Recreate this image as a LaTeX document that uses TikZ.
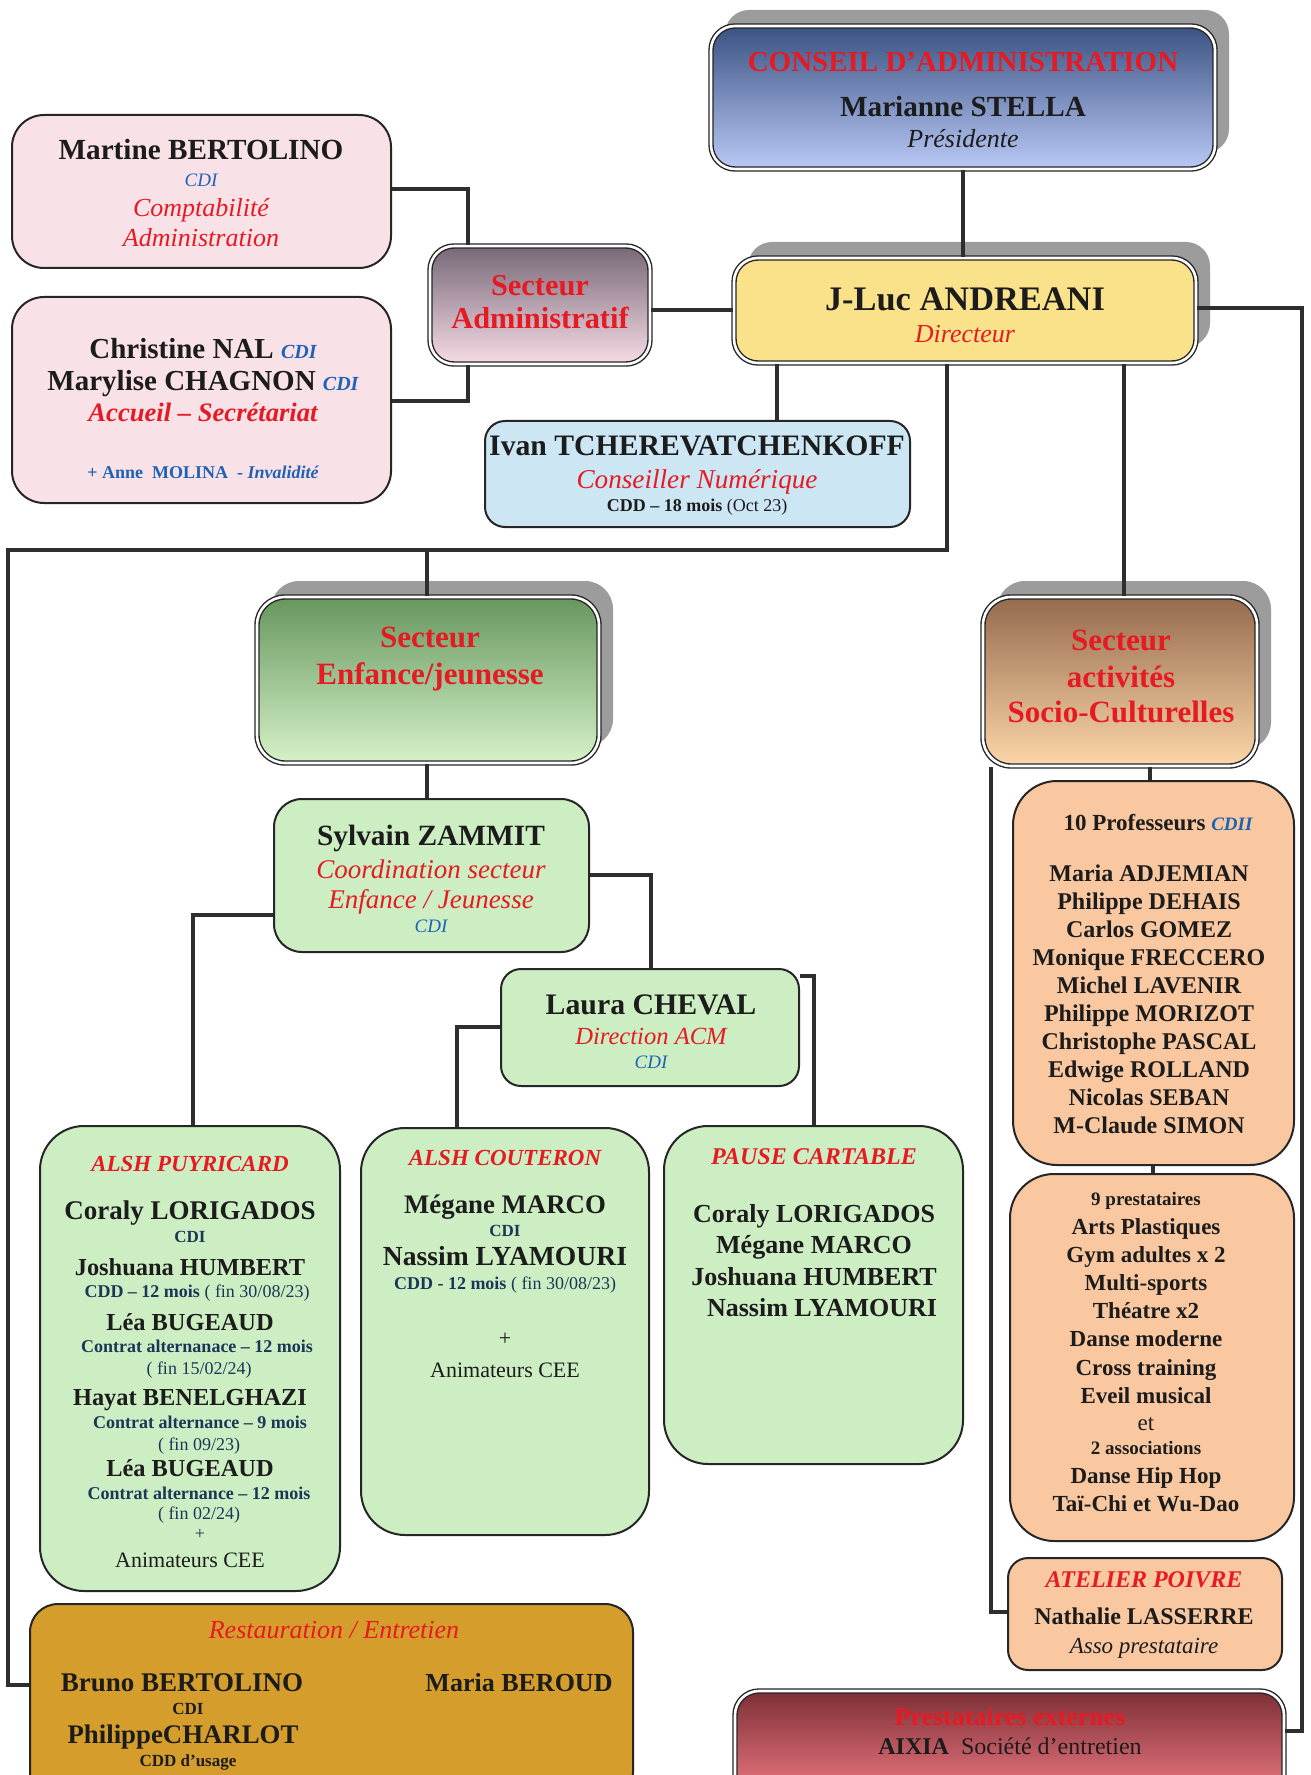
\documentclass[tikz,border=0pt]{standalone}
\usepackage{fontspec}
\setmainfont{Liberation Serif}
\usetikzlibrary{shadows}
\definecolor{redt}{HTML}{E61A22}
\definecolor{bluet}{HTML}{1F62B5}
\definecolor{navyt}{HTML}{1B3656}
\definecolor{txt}{HTML}{1C1C1C}
\definecolor{linec}{HTML}{2E2E2E}
\definecolor{shadowgray}{HTML}{9C9C9C}
\definecolor{pinkc}{HTML}{F9E1E8}
\definecolor{ivanc}{HTML}{CCE6F4}
\definecolor{greenc}{HTML}{CDEEC3}
\definecolor{peachc}{HTML}{F9C8A0}
\definecolor{goldc}{HTML}{D49D2C}
\definecolor{yellc}{HTML}{F9E28A}
\definecolor{consT}{HTML}{3A5282}
\definecolor{consB}{HTML}{BAC9F6}
\definecolor{admT}{HTML}{776878}
\definecolor{admB}{HTML}{F7DCE6}
\definecolor{enfT}{HTML}{66965E}
\definecolor{enfB}{HTML}{D6F2C8}
\definecolor{socT}{HTML}{966A4E}
\definecolor{socB}{HTML}{FCD7A8}
\definecolor{extT}{HTML}{7E2F36}
\definecolor{extB}{HTML}{F07C86}
\newcommand\fsz[2]{\fontsize{#1}{#2}\selectfont}
\newcommand\mytn[4]{\node[tline] (#1) at (#2,#3) {#4};}
\tikzset{
  ebox/.style={draw=black!85, line width=1pt, rounded corners=#1, inner sep=0pt},
  dbox/.style={draw=black!85, double=white, double distance=1.3pt, line width=0.7pt, rounded corners=#1, inner sep=0pt},
  shad/.style={drop shadow={shadow xshift=7pt, shadow yshift=8pt, fill=shadowgray, opacity=1}},
  link/.style={draw=linec, line width=2pt},
  tline/.style={anchor=base, inner sep=0pt, text=txt},
}
\begin{document}
\begin{tikzpicture}[x=0.5pt, y=-0.5pt]
\useasboundingbox (0,0) rectangle (1310,1775);
\clip (0,0) rectangle (1310,1775);
\fill[white] (0,0) rectangle (1310,1775);

% ---------- boxes ----------
\node[dbox=12pt, shad, top color=consT, bottom color=consB, minimum width=252pt, minimum height=71.5pt] (conseil) at (963,97.5) {};
\node[dbox=12pt, shad, fill=yellc, minimum width=231pt, minimum height=52.5pt] (jluc) at (965,310.5) {};
\node[dbox=12pt, top color=admT, bottom color=admB, minimum width=110pt, minimum height=59pt] (admin) at (540,305) {};
\node[ebox=16pt, fill=pinkc, minimum width=189.5pt, minimum height=76.5pt] (martine) at (201.5,191.5) {};
\node[ebox=16pt, fill=pinkc, minimum width=189.5pt, minimum height=103pt] (christine) at (201.5,400) {};
\node[ebox=10pt, fill=ivanc, minimum width=212.5pt, minimum height=53pt] (ivan) at (697.5,474) {};
\node[dbox=14pt, shad, top color=enfT, bottom color=enfB, minimum width=171pt, minimum height=83pt] (enfance) at (428,680) {};
\node[dbox=14pt, shad, top color=socT, bottom color=socB, minimum width=137pt, minimum height=84.5pt] (socio) at (1120,681.5) {};
\node[ebox=14pt, fill=greenc, minimum width=157.5pt, minimum height=76.5pt] (sylvain) at (431.5,875.5) {};
\node[ebox=10pt, fill=greenc, minimum width=149pt, minimum height=58.5pt] (laura) at (650,1027.5) {};
\node[ebox=22pt, fill=greenc, minimum width=150pt, minimum height=232.5pt] (puy) at (190,1358.5) {};
\node[ebox=22pt, fill=greenc, minimum width=144pt, minimum height=203.5pt] (cout) at (505,1331.5) {};
\node[ebox=22pt, fill=greenc, minimum width=149.5pt, minimum height=169pt] (pause) at (813.5,1295) {};
\node[ebox=22pt, fill=peachc, minimum width=140.5pt, minimum height=192pt] (profs) at (1153.5,973) {};
\node[ebox=22pt, fill=peachc, minimum width=142pt, minimum height=183.5pt] (prest) at (1152,1357.5) {};
\node[ebox=10pt, fill=peachc, minimum width=137pt, minimum height=56pt] (atelier) at (1145,1614) {};
\node[ebox=14pt, fill=goldc, minimum width=301.5pt, minimum height=98pt] (restau) at (331.5,1702) {};
\node[dbox=12pt, top color=extT, bottom color=extB, minimum width=274.5pt, minimum height=54.5pt] (ext) at (1009.5,1745.5) {};

% ---------- connectors ----------
\draw[link] (conseil.south) -- (conseil.south |- jluc.north);
\draw[link] (admin.east |- jluc.west) -- (jluc.west);
\draw[link] (martine.east |- 0,189) -| (admin.north -| 468,0);
\draw[link] (christine.east |- 0,401) -| (admin.south -| 468,0);
\draw[link] (jluc.south -| 777,0) -- (ivan.north -| 777,0);
\draw[link] (jluc.south -| 947,0) -- (947,550) -- (8,550) -- (8,1685) -- (restau.west |- 0,1685);
\draw[link] (427,550) -- (enfance.north -| 427,0);
\draw[link] (enfance.south -| 427,0) -- (sylvain.north -| 427,0);
\draw[link] (sylvain.west |- 0,915) -| (puy.north -| 193,0);
\draw[link] (sylvain.east |- 0,875) -| (laura.north -| 651,0);
\draw[link] (laura.west |- 0,1027) -| (cout.north -| 457,0);
\draw[link] (laura.east |- 0,976) -| (pause.north -| 814,0);
\draw[link] (jluc.south -| 1124,0) -- (socio.north -| 1124,0);
\draw[link] (socio.south -| 1150,0) -- (profs.north -| 1150,0);
\draw[link] (profs.south -| 1153,0) -- (prest.north -| 1153,0);
\draw[link] (socio.south -| 991,0) |- (atelier.west |- 0,1612);
\draw[link] (jluc.east |- 0,308) -- (1302,308) -- (1302,1731) -- (ext.east |- 0,1731);

% ---------- texts ----------
% Martine
\mytn{m1}{201}{160}{\fsz{14.6}{17}\bfseries Martine BERTOLINO}
\mytn{m2}{201}{187}{\color{bluet}\fsz{9.5}{11}\itshape CDI}
\mytn{m3}{201}{217}{\color{redt}\fsz{13}{15}\itshape Comptabilité}
\mytn{m4}{201}{247}{\color{redt}\fsz{13}{15}\itshape Administration}
% Christine
\mytn{c1}{203}{359}{\fsz{14.5}{17}\bfseries Christine NAL {\color{bluet}\fsz{10}{12}\itshape CDI}}
\mytn{c2}{203}{391}{\fsz{14.5}{17}\bfseries Marylise CHAGNON {\color{bluet}\fsz{10}{12}\itshape CDI}}
\mytn{c3}{203}{422}{\color{redt}\fsz{13.3}{15}\bfseries\itshape Accueil – Secrétariat}
\mytn{c4}{203}{478}{\color{bluet}\fsz{9}{11}\bfseries + Anne\ \ MOLINA\ \ - {\itshape Invalidité}}
% Admin
\mytn{a1}{540}{296}{\color{redt}\fsz{15.2}{18}\bfseries Secteur}
\mytn{a2}{540}{329}{\color{redt}\fsz{15.2}{18}\bfseries Administratif}
% Conseil
\mytn{k1}{963}{72}{\color{redt}\fsz{14.5}{17}\bfseries CONSEIL D’ADMINISTRATION}
\mytn{k2}{963}{117}{\fsz{14.6}{17}\bfseries Marianne STELLA}
\mytn{k3}{963}{148}{\fsz{13}{15}\itshape Présidente}
% J-Luc
\mytn{j1}{965}{311}{\fsz{17.2}{20}\bfseries J-Luc ANDREANI}
\mytn{j2}{965}{343}{\color{redt}\fsz{13}{15}\itshape Directeur}
% Ivan
\mytn{i1}{697}{455}{\fsz{14.85}{17}\bfseries Ivan TCHEREVATCHENKOFF}
\mytn{i2}{697}{488}{\color{redt}\fsz{13.6}{16}\itshape Conseiller Numérique}
\mytn{i3}{697}{511}{\fsz{9}{11}\bfseries CDD – 18 mois {\mdseries(Oct 23)}}
% Enfance
\mytn{e1}{430}{647}{\color{redt}\fsz{15.5}{18}\bfseries Secteur}
\mytn{e2}{430}{684}{\color{redt}\fsz{15.5}{18}\bfseries Enfance/jeunesse}
% Sylvain
\mytn{s1}{431}{845}{\fsz{14.7}{17}\bfseries Sylvain ZAMMIT}
\mytn{s2}{431}{878}{\color{redt}\fsz{13.5}{16}\itshape Coordination secteur}
\mytn{s3}{431}{908}{\color{redt}\fsz{13.5}{16}\itshape Enfance / Jeunesse}
\mytn{s4}{431}{932}{\color{bluet}\fsz{9.5}{11}\itshape CDI}
% Laura
\mytn{l1}{651}{1014}{\fsz{14.9}{17}\bfseries Laura CHEVAL}
\mytn{l2}{651}{1044}{\color{redt}\fsz{12.3}{14}\itshape Direction ACM}
\mytn{l3}{651}{1068}{\color{bluet}\fsz{9.5}{11}\itshape CDI}
% Socio
\mytn{so1}{1121}{650}{\color{redt}\fsz{15.5}{18}\bfseries Secteur}
\mytn{so2}{1121}{687}{\color{redt}\fsz{15.5}{18}\bfseries activités}
\mytn{so3}{1121}{722}{\color{redt}\fsz{15.5}{18}\bfseries Socio-Culturelles}
% Professeurs
\mytn{p0}{1158}{830}{\fsz{11.5}{14}\bfseries 10 Professeurs {\color{bluet}\fsz{9.5}{11}\itshape CDII}}
\mytn{p1}{1149}{881}{\fsz{12}{14}\bfseries Maria ADJEMIAN}
\mytn{p2}{1149}{909}{\fsz{12}{14}\bfseries Philippe DEHAIS}
\mytn{p3}{1149}{937}{\fsz{12}{14}\bfseries Carlos GOMEZ}
\mytn{p4}{1149}{965}{\fsz{12}{14}\bfseries Monique FRECCERO}
\mytn{p5}{1149}{993}{\fsz{12}{14}\bfseries Michel LAVENIR}
\mytn{p6}{1149}{1021}{\fsz{12}{14}\bfseries Philippe MORIZOT}
\mytn{p7}{1149}{1049}{\fsz{12}{14}\bfseries Christophe PASCAL}
\mytn{p8}{1149}{1077}{\fsz{12}{14}\bfseries Edwige ROLLAND}
\mytn{p9}{1149}{1105}{\fsz{12}{14}\bfseries Nicolas SEBAN}
\mytn{p10}{1149}{1133}{\fsz{12}{14}\bfseries M-Claude SIMON}
% Prestataires
\mytn{q0}{1146}{1205}{\fsz{9.5}{11}\bfseries 9 prestataires}
\mytn{q1}{1146}{1234}{\fsz{11.5}{14}\bfseries Arts Plastiques}
\mytn{q2}{1146}{1262}{\fsz{11.5}{14}\bfseries Gym adultes x 2}
\mytn{q3}{1146}{1290}{\fsz{11.5}{14}\bfseries Multi-sports}
\mytn{q4}{1146}{1318}{\fsz{11.5}{14}\bfseries Théatre x2}
\mytn{q5}{1146}{1346}{\fsz{11.5}{14}\bfseries Danse moderne}
\mytn{q6}{1146}{1375}{\fsz{11.5}{14}\bfseries Cross training}
\mytn{q7}{1146}{1403}{\fsz{11.5}{14}\bfseries Eveil musical}
\mytn{q8}{1146}{1430}{\fsz{11.5}{14}et}
\mytn{q9}{1146}{1454}{\fsz{9.5}{11}\bfseries 2 associations}
\mytn{q10}{1146}{1483}{\fsz{11.5}{14}\bfseries Danse Hip Hop}
\mytn{q11}{1146}{1511}{\fsz{11.5}{14}\bfseries Taï-Chi et Wu-Dao}
% Atelier
\mytn{at1}{1144}{1587}{\color{redt}\fsz{12}{14}\bfseries\itshape ATELIER POIVRE}
\mytn{at2}{1144}{1624}{\fsz{12}{14}\bfseries Nathalie LASSERRE}
\mytn{at3}{1144}{1653}{\fsz{11.5}{14}\itshape Asso prestataire}
% Externes
\mytn{x1}{1010}{1725}{\color{redt}\fsz{13}{15}\bfseries Prestataires externes}
\mytn{x2}{1010}{1754}{\fsz{12}{14}{\bfseries AIXIA}\ \ Société d’entretien}
% Pause cartable
\mytn{pc0}{814}{1164}{\color{redt}\fsz{12}{14}\bfseries\itshape PAUSE CARTABLE}
\mytn{pc1}{814}{1222}{\fsz{13}{15}\bfseries Coraly LORIGADOS}
\mytn{pc2}{814}{1253}{\fsz{13}{15}\bfseries Mégane MARCO}
\mytn{pc3}{814}{1285}{\fsz{13}{15}\bfseries Joshuana HUMBERT}
\mytn{pc4}{822}{1316}{\fsz{13}{15}\bfseries Nassim LYAMOURI}
% Couteron
\mytn{co0}{505}{1165}{\color{redt}\fsz{11.5}{14}\bfseries\itshape ALSH COUTERON}
\mytn{co1}{505}{1213}{\fsz{13.4}{15}\bfseries Mégane MARCO}
\mytn{co2}{505}{1236}{\color{navyt}\fsz{8.5}{10}\bfseries CDI}
\mytn{co3}{505}{1265}{\fsz{13.8}{16}\bfseries Nassim LYAMOURI}
\mytn{co4}{505}{1289}{\color{navyt}\fsz{9}{11}\bfseries CDD - 12 mois {\mdseries( fin 30/08/23)}}
\mytn{co5}{505}{1345}{\fsz{11}{13}+}
\mytn{co6}{505}{1377}{\fsz{11}{13}Animateurs CEE}
% Puyricard
\mytn{pu0}{190}{1171}{\color{redt}\fsz{11.5}{14}\bfseries\itshape ALSH PUYRICARD}
\mytn{pu1}{190}{1219}{\fsz{13.5}{16}\bfseries Coraly LORIGADOS}
\mytn{pu2}{190}{1242}{\color{navyt}\fsz{8.5}{10}\bfseries CDI}
\mytn{pu3}{190}{1275}{\fsz{12.2}{14}\bfseries Joshuana HUMBERT}
\mytn{pu4}{197}{1297}{\color{navyt}\fsz{9}{11}\bfseries CDD – 12 mois {\mdseries( fin 30/08/23)}}
\mytn{pu5}{190}{1330}{\fsz{12.2}{14}\bfseries Léa BUGEAUD}
\mytn{pu6}{197}{1352}{\color{navyt}\fsz{9}{11}\bfseries Contrat alternanace – 12 mois}
\mytn{pu7}{199}{1374}{\color{navyt}\fsz{9}{11}( fin 15/02/24)}
\mytn{pu8}{190}{1405}{\fsz{12.2}{14}\bfseries Hayat BENELGHAZI}
\mytn{pu9}{200}{1428}{\color{navyt}\fsz{9}{11}\bfseries Contrat alternance – 9 mois}
\mytn{pu10}{199}{1450}{\color{navyt}\fsz{9}{11}( fin 09/23)}
\mytn{pu11}{190}{1476}{\fsz{12.2}{14}\bfseries Léa BUGEAUD}
\mytn{pu12}{199}{1499}{\color{navyt}\fsz{9}{11}\bfseries Contrat alternance – 12 mois}
\mytn{pu13}{199}{1519}{\color{navyt}\fsz{9}{11}( fin 02/24)}
\mytn{pu14}{200}{1539}{\color{navyt}\fsz{9}{11}+}
\mytn{pu15}{190}{1567}{\fsz{11}{13}Animateurs CEE}
% Restauration
\mytn{r0}{334}{1638}{\color{redt}\fsz{13}{15}\itshape Restauration / Entretien}
\mytn{r1}{182}{1691}{\fsz{13.5}{16}\bfseries Bruno BERTOLINO}
\mytn{r2}{188}{1714}{\fsz{8.5}{10}\bfseries CDI}
\mytn{r3}{183}{1743}{\fsz{13.4}{16}\bfseries PhilippeCHARLOT}
\mytn{r4}{188}{1766}{\fsz{8.5}{10}\bfseries CDD d’usage}
\mytn{r5}{519}{1691}{\fsz{13}{15}\bfseries Maria BEROUD}
\end{tikzpicture}
\end{document}
